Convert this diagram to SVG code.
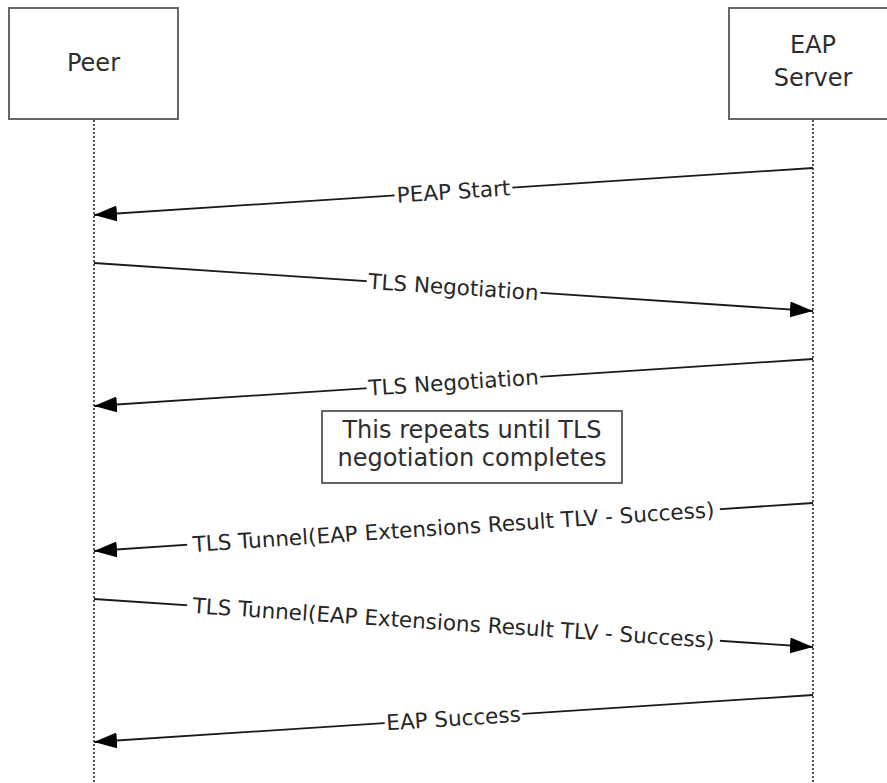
<svg xmlns="http://www.w3.org/2000/svg" width="887" height="783" viewBox="0 0 887 783">
<style>
.bg{fill:#ffffff}
.actor{fill:#ffffff;stroke:#666666;stroke-width:2}
.life{stroke:#555555;stroke-width:2;stroke-dasharray:2 2;fill:none}
.msg{stroke:#1a1a1a;stroke-width:1.8;fill:none;marker-end:url(#ah)}
.lbl{font-family:"DejaVu Sans","Verdana",sans-serif;font-size:21.5px;fill:#262626;text-anchor:middle}
.big{font-family:"DejaVu Sans","Verdana",sans-serif;font-size:24px;fill:#2e2e2e;text-anchor:middle}
.note{fill:#ffffff;stroke:#333333;stroke-width:1.5}
.lblbg{fill:#ffffff}
</style>
<defs>
<marker id="ah" viewBox="0 0 23 16" refX="23" refY="8" markerWidth="23" markerHeight="16" markerUnits="userSpaceOnUse" orient="auto">
<path d="M0,0 L23,8 L0,16 z" fill="#000000"/>
</marker>
</defs>
<rect class="bg" x="0" y="0" width="887" height="783"/>
<g id="lifelines">
<line class="life" x1="94" y1="120" x2="94" y2="783"/>
<line class="life" x1="813" y1="120" x2="813" y2="783"/>
</g>
<g id="peer">
<rect class="actor" x="9" y="8" width="169" height="111"/>
<text class="big" x="93.5" y="71">Peer</text>
</g>
<g id="eap-server">
<rect class="actor" x="729" y="8" width="169" height="111"/>
<text class="big" x="813" y="53">EAP</text>
<text class="big" x="813" y="86">Server</text>
</g>
<g id="note">
<rect class="note" x="322" y="411" width="300" height="72"/>
<text class="big" x="472" y="438">This repeats until TLS</text>
<text class="big" x="472" y="466">negotiation completes</text>
</g>
<g id="connectors">
<g id="m1">
<line class="msg" x1="813" y1="168" x2="94" y2="215"/>
<g transform="translate(453.5,191.5) rotate(-3.74)">
<rect class="lblbg" x="-59" y="-10" width="118" height="20"/>
<text class="lbl" x="0" y="7.5">PEAP Start</text>
</g>
</g>
<g id="m2">
<line class="msg" x1="94" y1="263" x2="813" y2="311"/>
<g transform="translate(453.5,287) rotate(3.82)">
<rect class="lblbg" x="-87" y="-10" width="174" height="20"/>
<text class="lbl" x="0" y="7.5">TLS Negotiation</text>
</g>
</g>
<g id="m3">
<line class="msg" x1="813" y1="359" x2="94" y2="406"/>
<g transform="translate(453.5,382.5) rotate(-3.74)">
<rect class="lblbg" x="-87" y="-10" width="174" height="20"/>
<text class="lbl" x="0" y="7.5">TLS Negotiation</text>
</g>
</g>
<g id="m4">
<line class="msg" x1="813" y1="503" x2="94" y2="551"/>
<g transform="translate(453.5,527) rotate(-3.82)">
<rect class="lblbg" x="-267" y="-10" width="534" height="20"/>
<text class="lbl" x="0" y="7.5">TLS Tunnel(EAP Extensions Result TLV - Success)</text>
</g>
</g>
<g id="m5">
<line class="msg" x1="94" y1="599" x2="813" y2="647"/>
<g transform="translate(453.5,623) rotate(3.82)">
<rect class="lblbg" x="-267" y="-10" width="534" height="20"/>
<text class="lbl" x="0" y="7.5">TLS Tunnel(EAP Extensions Result TLV - Success)</text>
</g>
</g>
<g id="m6">
<line class="msg" x1="813" y1="695" x2="94" y2="742"/>
<g transform="translate(453.5,718.5) rotate(-3.74)">
<rect class="lblbg" x="-69" y="-10" width="138" height="20"/>
<text class="lbl" x="0" y="7.5">EAP Success</text>
</g>
</g>
</g>
</svg>
